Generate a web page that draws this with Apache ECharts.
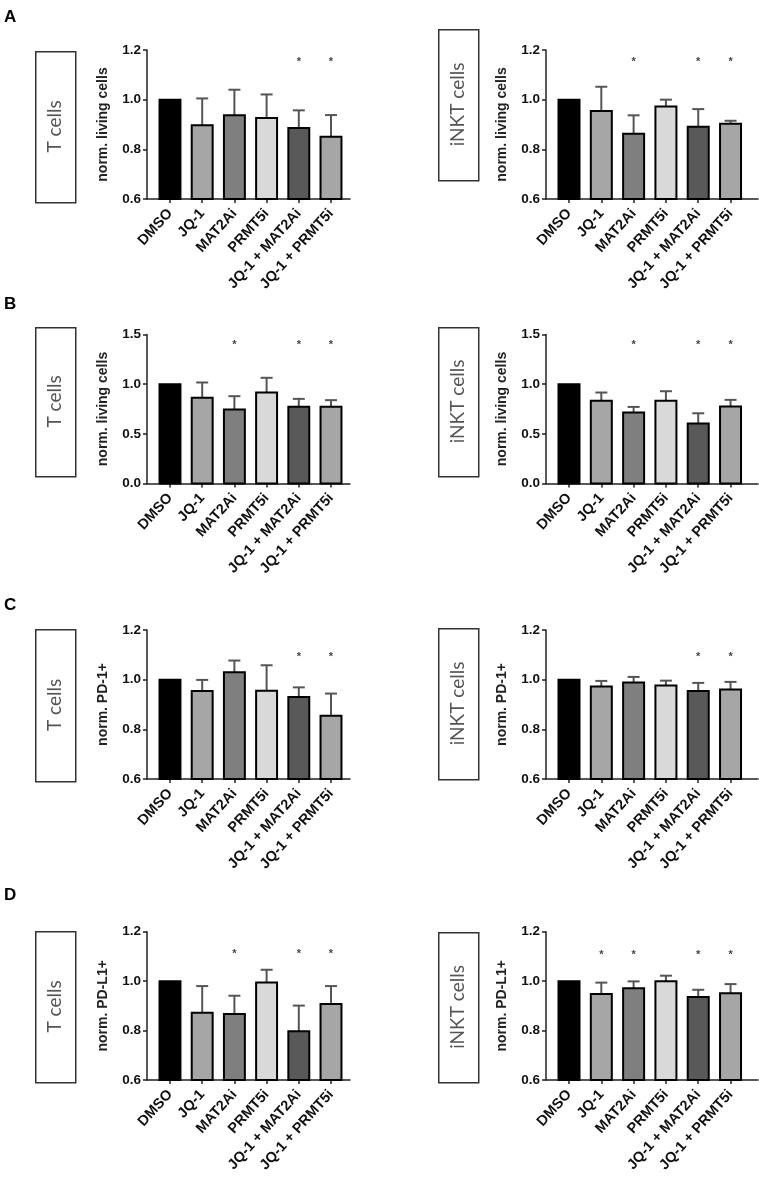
<!DOCTYPE html>
<html><head><meta charset="utf-8">
<script src="https://cdn.jsdelivr.net/npm/echarts@6/dist/echarts.min.js"></script>
<style>html,body{margin:0;padding:0;background:#fff}#c{width:759px;height:1184px}</style>
</head><body><div id="c"></div>
<script>
// ---------- data ----------
const categories = ['DMSO', 'JQ-1', 'MAT2Ai', 'PRMT5i', 'JQ-1 + MAT2Ai', 'JQ-1 + PRMT5i'];
const barColors = ['#000000', '#a6a6a6', '#7f7f7f', '#d9d9d9', '#595959', '#a6a6a6'];

const ticksNarrow = [0.6, 0.8, 1.0, 1.2];
const ticksWide = [0.0, 0.5, 1.0, 1.5];

// A: living cells
const aTMean = [1.00, 0.897, 0.937, 0.926, 0.886, 0.851];
const aTSd   = [0, 0.108, 0.103, 0.095, 0.071, 0.087];
const aTSig  = [0, 0, 0, 0, 1, 1];
const aNMean = [1.00, 0.954, 0.863, 0.972, 0.891, 0.903];
const aNSd   = [0, 0.098, 0.074, 0.028, 0.071, 0.012];
const aNSig  = [0, 0, 1, 0, 1, 1];
// B: living cells
const bTMean = [1.00, 0.862, 0.745, 0.916, 0.772, 0.772];
const bTSd   = [0, 0.155, 0.134, 0.148, 0.080, 0.067];
const bTSig  = [0, 0, 1, 0, 1, 1];
const bNMean = [1.00, 0.832, 0.714, 0.832, 0.603, 0.774];
const bNSd   = [0, 0.084, 0.057, 0.097, 0.104, 0.068];
const bNSig  = [0, 0, 1, 0, 1, 1];
// C: PD-1+
const cTMean = [1.00, 0.954, 1.030, 0.955, 0.930, 0.855];
const cTSd   = [0, 0.045, 0.047, 0.103, 0.039, 0.089];
const cTSig  = [0, 0, 0, 0, 1, 1];
const cNMean = [1.00, 0.972, 0.989, 0.977, 0.954, 0.960];
const cNSd   = [0, 0.023, 0.022, 0.019, 0.033, 0.031];
const cNSig  = [0, 0, 0, 0, 1, 1];
// D: PD-L1+
const dTMean = [1.00, 0.872, 0.867, 0.994, 0.797, 0.907];
const dTSd   = [0, 0.108, 0.074, 0.052, 0.104, 0.073];
const dTSig  = [0, 0, 1, 0, 1, 1];
const dNMean = [1.00, 0.948, 0.971, 1.000, 0.936, 0.951];
const dNSd   = [0, 0.046, 0.028, 0.022, 0.029, 0.037];
const dNSig  = [0, 1, 1, 0, 1, 1];

// ---------- layout ----------
const FONT = 'Liberation Sans, Arial, sans-serif';
const sides = [
  { left: 147, width: 203, xmin: -0.714, xmax: 5.59, boxX: 35, boxW: 40 },
  { left: 546, width: 212, xmin: -0.712, xmax: 5.85, boxX: 438, boxW: 40 }
];
const panels = [
  { letter: 'A', letterY: 17.5, cell: 'T cells',    yName: 'norm. living cells', mean: aTMean, sd: aTSd, sig: aTSig, ticks: ticksNarrow, side: 0, top: 50,    height: 149,   star: 1.16, boxY: 51,  boxH: 151 },
  { cell: 'iNKT cells', yName: 'norm. living cells', mean: aNMean, sd: aNSd, sig: aNSig, ticks: ticksNarrow, side: 1, top: 50,    height: 149,   star: 1.16, boxY: 29,  boxH: 151 },
  { letter: 'B', letterY: 304, cell: 'T cells',    yName: 'norm. living cells', mean: bTMean, sd: bTSd, sig: bTSig, ticks: ticksWide,   side: 0, top: 334.5, height: 149,   star: 1.41, boxY: 327, boxH: 149 },
  { cell: 'iNKT cells', yName: 'norm. living cells', mean: bNMean, sd: bNSd, sig: bNSig, ticks: ticksWide,   side: 1, top: 334.5, height: 149,   star: 1.41, boxY: 327, boxH: 149 },
  { letter: 'C', letterY: 605, cell: 'T cells',    yName: 'norm. PD-1+',  mean: cTMean, sd: cTSd, sig: cTSig, ticks: ticksNarrow, side: 0, top: 630,   height: 149,   star: 1.10, boxY: 629, boxH: 152 },
  { cell: 'iNKT cells', yName: 'norm. PD-1+',  mean: cNMean, sd: cNSd, sig: cNSig, ticks: ticksNarrow, side: 1, top: 630,   height: 149,   star: 1.10, boxY: 628, boxH: 151 },
  { letter: 'D', letterY: 895.5, cell: 'T cells',    yName: 'norm. PD-L1+', mean: dTMean, sd: dTSd, sig: dTSig, ticks: ticksNarrow, side: 0, top: 931.7, height: 148.3, star: 1.12, boxY: 931, boxH: 151 },
  { cell: 'iNKT cells', yName: 'norm. PD-L1+', mean: dNMean, sd: dNSd, sig: dNSig, ticks: ticksNarrow, side: 1, top: 931.7, height: 148.3, star: 1.115, boxY: 932, boxH: 150 }
];

const catIdx = categories.map((_, i) => i);
const grid = [], xAxis = [], yAxis = [], series = [], graphic = [];

panels.forEach((p, k) => {
  const s = sides[p.side];
  const tmin = p.ticks[0], tmax = p.ticks[p.ticks.length - 1];
  const step = Math.round((p.ticks[1] - p.ticks[0]) * 1000) / 1000;
  grid.push({ left: s.left, top: p.top, width: s.width, height: p.height, containLabel: false, outerBoundsMode: 'none' });
  xAxis.push({
    gridIndex: k, type: 'value', min: s.xmin, max: s.xmax,
    axisLine: { show: true, onZero: false, lineStyle: { color: '#222', width: 1.5 } },
    axisTick: { show: true, customValues: catIdx, length: 4, lineStyle: { color: '#222', width: 1.5 } },
    axisLabel: {
      customValues: catIdx, formatter: v => categories[Math.round(v)], rotate: 48, margin: 12,
      fontSize: 14.5, fontWeight: 'bold', color: '#111', fontFamily: FONT
    },
    splitLine: { show: false }
  });
  yAxis.push({
    gridIndex: k, type: 'value', min: tmin, max: tmax, interval: step,
    name: p.yName, nameLocation: 'middle', nameGap: 37,
    nameTextStyle: { fontSize: 14, fontWeight: 'bold', color: '#222', fontFamily: FONT },
    axisLine: { show: true, onZero: false, lineStyle: { color: '#222', width: 1.5 } },
    axisTick: { show: true, length: 4, lineStyle: { color: '#222', width: 1.5 } },
    axisLabel: { fontSize: 13.5, fontWeight: 'bold', color: '#111', margin: 6, fontFamily: FONT, formatter: v => v.toFixed(1) },
    splitLine: { show: false }
  });
  // bars + error bars
  series.push({
    type: 'custom', xAxisIndex: k, yAxisIndex: k, clip: false,
    data: p.mean.map((m, i) => [i, m, p.sd[i]]),
    renderItem: (params, api) => {
      const i = api.value(0), m = api.value(1), sd = api.value(2);
      const bw = api.size([1, 0])[0] * 0.65;
      const p0 = api.coord([i, tmin]);
      const p1 = api.coord([i, m]);
      const p2 = api.coord([i, m + sd]);
      const ch = [];
      if (sd > 0) {
        ch.push({ type: 'line', shape: { x1: p1[0], y1: p1[1], x2: p2[0], y2: p2[1] }, style: { stroke: '#555', lineWidth: 2 } });
        ch.push({ type: 'line', shape: { x1: p2[0] - 6, y1: p2[1], x2: p2[0] + 6, y2: p2[1] }, style: { stroke: '#555', lineWidth: 2 } });
      }
      ch.push({ type: 'rect', shape: { x: p1[0] - bw / 2, y: p1[1], width: bw, height: p0[1] - p1[1] },
        style: { fill: barColors[i], stroke: '#000', lineWidth: 2 } });
      return { type: 'group', children: ch };
    }
  });
  // significance stars
  series.push({
    type: 'custom', xAxisIndex: k, yAxisIndex: k, clip: false,
    data: p.sig.map((v, i) => [i, v]).filter(d => d[1] === 1).map(d => [d[0], p.star]),
    renderItem: (params, api) => {
      const c = api.coord([api.value(0), api.value(1)]);
      return { type: 'text', x: c[0], y: c[1] + 2,
        style: { text: '*', fill: '#444', fontSize: 11, fontWeight: 'bold', fontFamily: FONT, align: 'center', verticalAlign: 'middle' } };
    }
  });
  // cell-type box
  graphic.push({ type: 'rect', left: s.boxX, top: p.boxY, shape: { x: 0, y: 0, width: s.boxW, height: p.boxH },
    style: { fill: '#fff', stroke: '#333', lineWidth: 1.5 } });
  graphic.push({ type: 'text', x: s.boxX + s.boxW / 2, y: p.boxY + p.boxH / 2, rotation: Math.PI / 2,
    style: { text: p.cell, fill: '#555', fontSize: 19, fontFamily: 'Lato, Open Sans, sans-serif', align: 'center', verticalAlign: 'middle' } });
  if (p.letter) {
    graphic.push({ type: 'text', x: 4, y: p.letterY,
      style: { text: p.letter, fill: '#000', fontSize: 17, fontWeight: 'bold', fontFamily: FONT, align: 'left', verticalAlign: 'middle' } });
  }
});

const chart = echarts.init(document.getElementById('c'), null, { renderer: 'canvas' });
chart.setOption({
  backgroundColor: '#fff',
  animation: false,
  grid, xAxis, yAxis, series, graphic
});
</script>
</body></html>
